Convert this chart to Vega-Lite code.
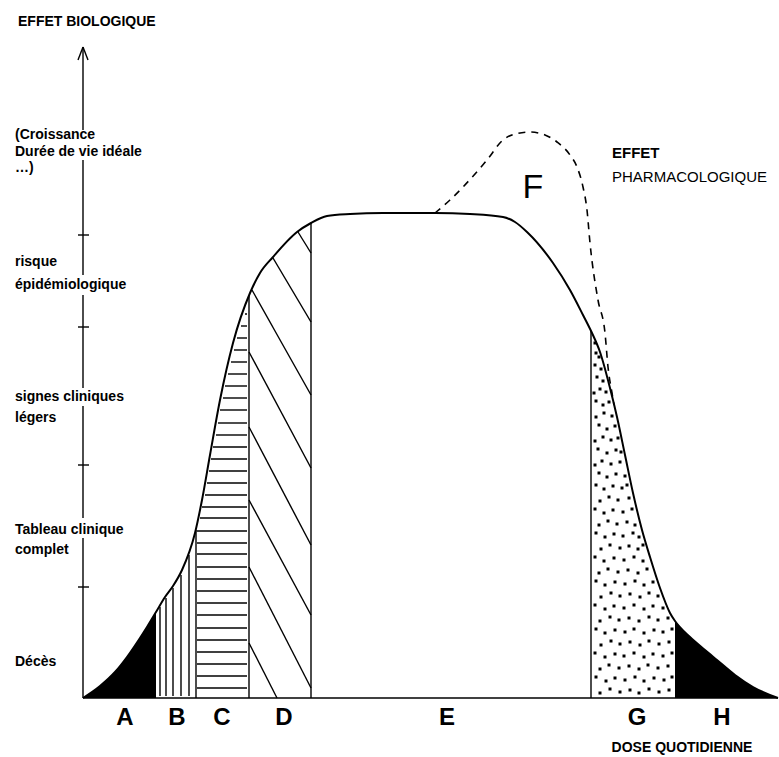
{
  "$schema": "https://vega.github.io/schema/vega-lite/v6.json",
  "width": 695,
  "height": 651,
  "autosize": {"type": "none"},
  "padding": {"left": 83, "top": 47, "right": 1, "bottom": 59},
  "background": "white",
  "config": {"view": {"stroke": null}},
  "datasets": {
    "courbe": [
      {"x": 0, "y": 0}, {"x": 17, "y": 12}, {"x": 32, "y": 26}, {"x": 44, "y": 41}, {"x": 57, "y": 60}, {"x": 64, "y": 71}, {"x": 73, "y": 86},
      {"x": 82, "y": 101}, {"x": 90, "y": 112}, {"x": 99, "y": 128}, {"x": 112, "y": 165}, {"x": 119, "y": 198}, {"x": 127, "y": 243},
      {"x": 137, "y": 298}, {"x": 150, "y": 355}, {"x": 167, "y": 405}, {"x": 177, "y": 425}, {"x": 190, "y": 441}, {"x": 214, "y": 466},
      {"x": 228, "y": 475}, {"x": 244, "y": 482}, {"x": 267, "y": 484}, {"x": 300, "y": 485}, {"x": 352, "y": 485}, {"x": 387, "y": 484},
      {"x": 420, "y": 481}, {"x": 432, "y": 476}, {"x": 444, "y": 466}, {"x": 470, "y": 435}, {"x": 487, "y": 408}, {"x": 500, "y": 383},
      {"x": 509, "y": 365}, {"x": 517, "y": 346}, {"x": 527, "y": 310}, {"x": 534, "y": 281}, {"x": 542, "y": 243}, {"x": 550, "y": 205},
      {"x": 559, "y": 168}, {"x": 567, "y": 141}, {"x": 577, "y": 110}, {"x": 587, "y": 85}, {"x": 592, "y": 77}, {"x": 607, "y": 61},
      {"x": 622, "y": 48}, {"x": 634, "y": 38}, {"x": 652, "y": 23}, {"x": 670, "y": 11}, {"x": 695, "y": 0}
    ],
    "pharmaco": [
      {"x": 352, "y": 485}, {"x": 367, "y": 498}, {"x": 380, "y": 511}, {"x": 404, "y": 538}, {"x": 420, "y": 558}, {"x": 432, "y": 564},
      {"x": 447, "y": 566}, {"x": 462, "y": 563}, {"x": 474, "y": 556}, {"x": 487, "y": 543}, {"x": 494, "y": 531}, {"x": 500, "y": 511},
      {"x": 504, "y": 488}, {"x": 507, "y": 455}, {"x": 515, "y": 398}, {"x": 522, "y": 365}, {"x": 525, "y": 331}, {"x": 529, "y": 305},
      {"x": 531, "y": 293}
    ],
    "segments": [
      {"x": 0, "y": 0, "x2": 0, "y2": 160}, {"x": 0, "y": 180, "x2": 0, "y2": 292}, {"x": 0, "y": 310, "x2": 0, "y2": 403},
      {"x": 0, "y": 423, "x2": 0, "y2": 538}, {"x": 0, "y": 568, "x2": 0, "y2": 651},
      {"x": 0, "y": 651, "x2": -5, "y2": 638}, {"x": 0, "y": 651, "x2": 5, "y2": 638},
      {"x": -5, "y": 463, "x2": 6, "y2": 463}, {"x": -5, "y": 371, "x2": 6, "y2": 371}, {"x": -5, "y": 233, "x2": 6, "y2": 233}, {"x": -5, "y": 111, "x2": 6, "y2": 111},
      {"x": 0, "y": 0, "x2": 695, "y2": 0},
      {"x": 113, "y": 0, "x2": 113, "y2": 168}, {"x": 166, "y": 0, "x2": 166, "y2": 403}, {"x": 228, "y": 0, "x2": 228, "y2": 475}, {"x": 508, "y": 0, "x2": 508, "y2": 367},
      {"x": 77, "y": 2, "x2": 77, "y2": 91}, {"x": 83, "y": 2, "x2": 83, "y2": 100}, {"x": 90, "y": 2, "x2": 90, "y2": 110}, {"x": 98, "y": 2, "x2": 98, "y2": 123}, {"x": 106, "y": 2, "x2": 106, "y2": 143},
      {"x": 114, "y": 10, "x2": 164, "y2": 10}, {"x": 114, "y": 22, "x2": 164, "y2": 22}, {"x": 114, "y": 34, "x2": 164, "y2": 34}, {"x": 114, "y": 46, "x2": 164, "y2": 46},
      {"x": 114, "y": 58, "x2": 164, "y2": 58}, {"x": 114, "y": 70, "x2": 164, "y2": 70}, {"x": 114, "y": 83, "x2": 164, "y2": 83}, {"x": 114, "y": 95, "x2": 164, "y2": 95},
      {"x": 114, "y": 107, "x2": 164, "y2": 107}, {"x": 114, "y": 119, "x2": 164, "y2": 119}, {"x": 114, "y": 131, "x2": 164, "y2": 131}, {"x": 114, "y": 144, "x2": 164, "y2": 144},
      {"x": 114, "y": 155, "x2": 164, "y2": 155}, {"x": 114, "y": 167, "x2": 164, "y2": 167}, {"x": 117, "y": 180, "x2": 164, "y2": 180}, {"x": 119, "y": 191, "x2": 164, "y2": 191},
      {"x": 122, "y": 203, "x2": 164, "y2": 203}, {"x": 124, "y": 215, "x2": 164, "y2": 215}, {"x": 126, "y": 227, "x2": 164, "y2": 227}, {"x": 128, "y": 239, "x2": 164, "y2": 239},
      {"x": 130, "y": 251, "x2": 164, "y2": 251}, {"x": 133, "y": 263, "x2": 164, "y2": 263}, {"x": 135, "y": 275, "x2": 164, "y2": 275}, {"x": 137, "y": 288, "x2": 164, "y2": 288},
      {"x": 140, "y": 300, "x2": 164, "y2": 300}, {"x": 142, "y": 312, "x2": 164, "y2": 312}, {"x": 145, "y": 324, "x2": 164, "y2": 324}, {"x": 148, "y": 336, "x2": 164, "y2": 336},
      {"x": 151, "y": 348, "x2": 164, "y2": 348}, {"x": 154, "y": 360, "x2": 164, "y2": 360}, {"x": 158, "y": 372, "x2": 164, "y2": 372}, {"x": 162, "y": 384, "x2": 164, "y2": 384},
      {"x": 215, "y": 466, "x2": 228, "y2": 445}, {"x": 190, "y": 440, "x2": 228, "y2": 376}, {"x": 169, "y": 408, "x2": 228, "y2": 303},
      {"x": 166, "y": 346, "x2": 228, "y2": 230}, {"x": 166, "y": 271, "x2": 228, "y2": 153}, {"x": 166, "y": 198, "x2": 228, "y2": 83},
      {"x": 166, "y": 131, "x2": 228, "y2": 10}, {"x": 166, "y": 55, "x2": 194, "y2": 0}
    ],
    "points": [
      {"x": 512, "y": 355},
      {"x": 513, "y": 345}, {"x": 516, "y": 341},
      {"x": 512, "y": 333}, {"x": 518, "y": 329},
      {"x": 514, "y": 321}, {"x": 520, "y": 317},
      {"x": 511, "y": 305}, {"x": 517, "y": 309}, {"x": 523, "y": 306},
      {"x": 513, "y": 297}, {"x": 520, "y": 293}, {"x": 526, "y": 296},
      {"x": 513, "y": 281}, {"x": 521, "y": 285}, {"x": 529, "y": 282},
      {"x": 516, "y": 273}, {"x": 524, "y": 269}, {"x": 532, "y": 272},
      {"x": 512, "y": 257}, {"x": 520, "y": 261}, {"x": 528, "y": 258}, {"x": 535, "y": 260},
      {"x": 515, "y": 249}, {"x": 524, "y": 245}, {"x": 533, "y": 248}, {"x": 538, "y": 246},
      {"x": 512, "y": 233}, {"x": 519, "y": 237}, {"x": 528, "y": 234}, {"x": 537, "y": 236},
      {"x": 516, "y": 225}, {"x": 524, "y": 221}, {"x": 533, "y": 224}, {"x": 542, "y": 222},
      {"x": 513, "y": 213}, {"x": 521, "y": 209}, {"x": 530, "y": 212}, {"x": 539, "y": 210}, {"x": 544, "y": 213},
      {"x": 517, "y": 197}, {"x": 526, "y": 201}, {"x": 535, "y": 198}, {"x": 546, "y": 200},
      {"x": 512, "y": 189}, {"x": 521, "y": 185}, {"x": 530, "y": 188}, {"x": 540, "y": 186}, {"x": 549, "y": 189},
      {"x": 516, "y": 173}, {"x": 525, "y": 177}, {"x": 534, "y": 174}, {"x": 544, "y": 176}, {"x": 552, "y": 173},
      {"x": 513, "y": 165}, {"x": 522, "y": 161}, {"x": 531, "y": 164}, {"x": 540, "y": 162}, {"x": 550, "y": 165}, {"x": 556, "y": 161},
      {"x": 518, "y": 149}, {"x": 527, "y": 153}, {"x": 537, "y": 150}, {"x": 546, "y": 152}, {"x": 555, "y": 149}, {"x": 560, "y": 153},
      {"x": 512, "y": 141}, {"x": 521, "y": 137}, {"x": 531, "y": 140}, {"x": 541, "y": 138}, {"x": 551, "y": 141}, {"x": 560, "y": 137},
      {"x": 516, "y": 125}, {"x": 525, "y": 129}, {"x": 535, "y": 126}, {"x": 545, "y": 128}, {"x": 555, "y": 125}, {"x": 564, "y": 129},
      {"x": 513, "y": 117}, {"x": 522, "y": 113}, {"x": 532, "y": 116}, {"x": 542, "y": 114}, {"x": 552, "y": 117}, {"x": 561, "y": 113}, {"x": 570, "y": 116},
      {"x": 518, "y": 101}, {"x": 528, "y": 105}, {"x": 537, "y": 102}, {"x": 547, "y": 104}, {"x": 557, "y": 101}, {"x": 566, "y": 105}, {"x": 575, "y": 102},
      {"x": 512, "y": 93}, {"x": 522, "y": 89}, {"x": 531, "y": 92}, {"x": 541, "y": 90}, {"x": 551, "y": 93}, {"x": 561, "y": 89}, {"x": 570, "y": 92}, {"x": 580, "y": 90},
      {"x": 517, "y": 77}, {"x": 527, "y": 81}, {"x": 536, "y": 78}, {"x": 546, "y": 80}, {"x": 556, "y": 77}, {"x": 566, "y": 81}, {"x": 575, "y": 78}, {"x": 585, "y": 80},
      {"x": 513, "y": 69}, {"x": 522, "y": 65}, {"x": 532, "y": 68}, {"x": 542, "y": 66}, {"x": 551, "y": 69}, {"x": 561, "y": 65}, {"x": 571, "y": 68}, {"x": 580, "y": 66}, {"x": 589, "y": 69},
      {"x": 518, "y": 53}, {"x": 528, "y": 57}, {"x": 537, "y": 54}, {"x": 547, "y": 56}, {"x": 557, "y": 53}, {"x": 566, "y": 57}, {"x": 576, "y": 54}, {"x": 586, "y": 56},
      {"x": 512, "y": 45}, {"x": 522, "y": 41}, {"x": 532, "y": 44}, {"x": 541, "y": 42}, {"x": 551, "y": 45}, {"x": 561, "y": 41}, {"x": 570, "y": 44}, {"x": 580, "y": 42}, {"x": 589, "y": 45},
      {"x": 517, "y": 29}, {"x": 526, "y": 33}, {"x": 536, "y": 30}, {"x": 546, "y": 32}, {"x": 556, "y": 29}, {"x": 565, "y": 33}, {"x": 575, "y": 30}, {"x": 585, "y": 32},
      {"x": 513, "y": 21}, {"x": 523, "y": 17}, {"x": 532, "y": 20}, {"x": 542, "y": 18}, {"x": 552, "y": 21}, {"x": 561, "y": 17}, {"x": 571, "y": 20}, {"x": 581, "y": 18}, {"x": 589, "y": 21},
      {"x": 517, "y": 5}, {"x": 527, "y": 9}, {"x": 537, "y": 6}, {"x": 547, "y": 8}, {"x": 556, "y": 5}, {"x": 566, "y": 9}, {"x": 576, "y": 6}, {"x": 586, "y": 8}
    ],
    "labels": [
      {"x": -65, "y": 676, "text": "EFFET BIOLOGIQUE", "role": "titre"},
      {"x": -68, "y": 563, "text": "(Croissance", "role": "axe"},
      {"x": -68, "y": 546, "text": "Durée de vie idéale", "role": "axe"},
      {"x": -68, "y": 530, "text": "…)", "role": "axe"},
      {"x": -68, "y": 436, "text": "risque", "role": "axe"},
      {"x": -68, "y": 413, "text": "épidémiologique", "role": "axe"},
      {"x": -68, "y": 301, "text": "signes cliniques", "role": "axe"},
      {"x": -68, "y": 280, "text": "légers", "role": "axe"},
      {"x": -68, "y": 168, "text": "Tableau clinique", "role": "axe"},
      {"x": -68, "y": 148, "text": "complet", "role": "axe"},
      {"x": -68, "y": 36, "text": "Décès", "role": "axe"},
      {"x": 42, "y": -20, "text": "A", "role": "zone"},
      {"x": 94, "y": -20, "text": "B", "role": "zone"},
      {"x": 139, "y": -20, "text": "C", "role": "zone"},
      {"x": 201, "y": -20, "text": "D", "role": "zone"},
      {"x": 364, "y": -20, "text": "E", "role": "zone"},
      {"x": 554, "y": -20, "text": "G", "role": "zone"},
      {"x": 639, "y": -20, "text": "H", "role": "zone"},
      {"x": 450, "y": 510, "text": "F", "role": "f"},
      {"x": 529, "y": 545, "text": "EFFET", "role": "effet"},
      {"x": 529, "y": 521, "text": "PHARMACOLOGIQUE", "role": "pharma"},
      {"x": 599, "y": -50, "text": "DOSE QUOTIDIENNE", "role": "dose"}
    ]
  },
  "layer": [
    {
      "data": {"name": "courbe"},
      "transform": [{"filter": "datum.x <= 73"}],
      "mark": {"type": "area", "interpolate": "monotone", "color": "black"},
      "encoding": {
        "x": {"field": "x", "type": "quantitative", "scale": {"domain": [0, 695], "nice": false, "zero": false}, "axis": null},
        "y": {"field": "y", "type": "quantitative", "scale": {"domain": [0, 651], "nice": false, "zero": false}, "axis": null},
        "y2": {"datum": 0}
      }
    },
    {
      "data": {"name": "courbe"},
      "transform": [{"filter": "datum.x >= 592"}],
      "mark": {"type": "area", "interpolate": "monotone", "color": "black"},
      "encoding": {
        "x": {"field": "x", "type": "quantitative"},
        "y": {"field": "y", "type": "quantitative"},
        "y2": {"datum": 0}
      }
    },
    {
      "data": {"name": "points"},
      "mark": {"type": "point", "shape": "square", "filled": true, "color": "black", "size": 9, "opacity": 1},
      "encoding": {
        "x": {"field": "x", "type": "quantitative"},
        "y": {"field": "y", "type": "quantitative"}
      }
    },
    {
      "data": {"name": "segments"},
      "mark": {"type": "rule", "color": "black", "strokeWidth": 1.4},
      "encoding": {
        "x": {"field": "x", "type": "quantitative"},
        "y": {"field": "y", "type": "quantitative"},
        "x2": {"field": "x2"},
        "y2": {"field": "y2"}
      }
    },
    {
      "data": {"name": "courbe"},
      "mark": {"type": "line", "interpolate": "monotone", "color": "black", "strokeWidth": 2},
      "encoding": {
        "x": {"field": "x", "type": "quantitative"},
        "y": {"field": "y", "type": "quantitative"}
      }
    },
    {
      "data": {"name": "pharmaco"},
      "mark": {"type": "line", "interpolate": "monotone", "color": "black", "strokeWidth": 1.6, "strokeDash": [7, 6]},
      "encoding": {
        "x": {"field": "x", "type": "quantitative"},
        "y": {"field": "y", "type": "quantitative"}
      }
    },
    {
      "data": {"name": "labels"},
      "transform": [{"filter": "datum.role == 'axe' || datum.role == 'titre'"}],
      "mark": {"type": "text", "align": "left", "baseline": "middle", "font": "Liberation Sans Narrow, Liberation Sans, Arial, sans-serif", "fontWeight": "bold", "fontSize": 14, "color": "black"},
      "encoding": {
        "x": {"field": "x", "type": "quantitative"},
        "y": {"field": "y", "type": "quantitative"},
        "text": {"field": "text"}
      }
    },
    {
      "data": {"name": "labels"},
      "transform": [{"filter": "datum.role == 'zone'"}],
      "mark": {"type": "text", "align": "center", "baseline": "middle", "font": "Liberation Sans Narrow, Liberation Sans, Arial, sans-serif", "fontWeight": "bold", "fontSize": 24, "color": "black"},
      "encoding": {
        "x": {"field": "x", "type": "quantitative"},
        "y": {"field": "y", "type": "quantitative"},
        "text": {"field": "text"}
      }
    },
    {
      "data": {"name": "labels"},
      "transform": [{"filter": "datum.role == 'f'"}],
      "mark": {"type": "text", "align": "center", "baseline": "middle", "font": "Liberation Sans Narrow, Liberation Sans, Arial, sans-serif", "fontSize": 34, "color": "black"},
      "encoding": {
        "x": {"field": "x", "type": "quantitative"},
        "y": {"field": "y", "type": "quantitative"},
        "text": {"field": "text"}
      }
    },
    {
      "data": {"name": "labels"},
      "transform": [{"filter": "datum.role == 'effet'"}],
      "mark": {"type": "text", "align": "left", "baseline": "middle", "font": "Liberation Sans Narrow, Liberation Sans, Arial, sans-serif", "fontWeight": "bold", "fontSize": 15, "color": "black"},
      "encoding": {
        "x": {"field": "x", "type": "quantitative"},
        "y": {"field": "y", "type": "quantitative"},
        "text": {"field": "text"}
      }
    },
    {
      "data": {"name": "labels"},
      "transform": [{"filter": "datum.role == 'pharma'"}],
      "mark": {"type": "text", "align": "left", "baseline": "middle", "font": "Liberation Sans Narrow, Liberation Sans, Arial, sans-serif", "fontSize": 15, "color": "black"},
      "encoding": {
        "x": {"field": "x", "type": "quantitative"},
        "y": {"field": "y", "type": "quantitative"},
        "text": {"field": "text"}
      }
    },
    {
      "data": {"name": "labels"},
      "transform": [{"filter": "datum.role == 'dose'"}],
      "mark": {"type": "text", "align": "center", "baseline": "middle", "font": "Liberation Sans Narrow, Liberation Sans, Arial, sans-serif", "fontWeight": "bold", "fontSize": 14, "color": "black"},
      "encoding": {
        "x": {"field": "x", "type": "quantitative"},
        "y": {"field": "y", "type": "quantitative"},
        "text": {"field": "text"}
      }
    }
  ]
}
